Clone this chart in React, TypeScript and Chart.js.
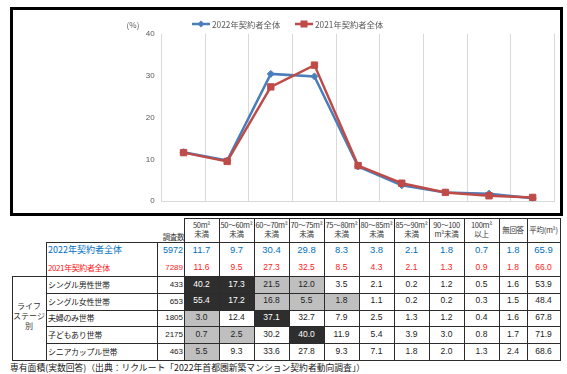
import React, { useEffect, useRef } from "react";
import { Chart, registerables } from "chart.js";

Chart.register(...registerables);

// ---------- chart data ----------
const chartCategories = [
  "50m²未満", "50～60m²未満", "60～70m²未満", "70～75m²未満", "75～80m²未満",
  "80～85m²未満", "85～90m²未満", "90～100m²未満", "100m²以上",
];
const series2022 = [11.7, 9.7, 30.4, 29.8, 8.3, 3.8, 2.1, 1.8, 0.7];
const series2021 = [11.6, 9.5, 27.3, 32.5, 8.5, 4.3, 2.1, 1.3, 0.9];
const yTickMin = 0;
const yTickMax = 40;
const yTickStep = 10;
const legend2022 = "2022年契約者全体";
const legend2021 = "2021年契約者全体";
const yUnitLabel = "(%)";

// ---------- table data ----------
const tableHeaders = [
  "50m²\n未満", "50～60m²\n未満", "60～70m²\n未満", "70～75m²\n未満", "75～80m²\n未満",
  "80～85m²\n未満", "85～90m²\n未満", "90～100\nm²未満", "100m²\n以上", "無回答", "平均(m²)",
];
const countHeader = "調査数";
const totalLabels = ["2022年契約者全体", "2021年契約者全体"];
const totalCounts = [5972, 7289];
const total2022 = [11.7, 9.7, 30.4, 29.8, 8.3, 3.8, 2.1, 1.8, 0.7, 1.8, 65.9];
const total2021 = [11.6, 9.5, 27.3, 32.5, 8.5, 4.3, 2.1, 1.3, 0.9, 1.8, 66.0];

const lifeGroupLabel = ["ライフ", "ステージ", "別"];
const lifeLabels = ["シングル男性世帯", "シングル女性世帯", "夫婦のみ世帯", "子どもあり世帯", "シニアカップル世帯"];
const lifeCounts = [433, 653, 1805, 2175, 463];
const singleMale = [40.2, 17.3, 21.5, 12.0, 3.5, 2.1, 0.2, 1.2, 0.5, 1.6, 53.9];
const singleFemale = [55.4, 17.2, 16.8, 5.5, 1.8, 1.1, 0.2, 0.2, 0.3, 1.5, 48.4];
const coupleOnly = [3.0, 12.4, 37.1, 32.7, 7.9, 2.5, 1.3, 1.2, 0.4, 1.6, 67.8];
const withChildren = [0.7, 2.5, 30.2, 40.0, 11.9, 5.4, 3.9, 3.0, 0.8, 1.7, 71.9];
const seniorCouple = [5.5, 9.3, 33.6, 27.8, 9.3, 7.1, 1.8, 2.0, 1.3, 2.4, 68.6];
const lifeValues = [singleMale, singleFemale, coupleOnly, withChildren, seniorCouple];
// highlighted cells: [lifeRow, column]
const darkCells = [[0, 0], [0, 1], [1, 0], [1, 1], [2, 2], [3, 3]];
const grayCells = [[0, 2], [0, 3], [1, 2], [1, 3], [1, 4], [2, 0], [3, 0], [3, 1], [4, 0]];

const footnote = "専有面積(実数回答)（出典：リクルート「2022年首都圏新築マンション契約者動向調査」）";

// ---------- layout ----------
const VX = [184, 219, 254, 289, 324, 359, 394, 429, 464, 499, 527, 560];
const HEAD_TOP = 218;
const ROW_Y = [242, 259, 276, 292.8, 309.6, 326.4, 343.2, 360];
const LINE = "#2b2b2b";
const JP = '"Noto Sans CJK JP", sans-serif';
const NUM = '"Liberation Sans", "Noto Sans CJK JP", sans-serif';

const BLUE = "#4A7EBB";
const RED = "#BE4B48";

const overlayPlugin = {
  id: "overlay",
  afterDraw(chart: any) {
    const ctx = chart.ctx as CanvasRenderingContext2D;
    ctx.save();
    ctx.fillStyle = "#595959";
    ctx.textBaseline = "middle";
    ctx.font = `8px ${JP}`;
    ctx.textAlign = "center";
    ctx.fillText(yUnitLabel, 120, 15);
    ctx.textAlign = "left";
    ctx.font = `8.3px ${JP}`;
    const y = 14;
    // 2022
    ctx.strokeStyle = BLUE;
    ctx.lineWidth = 2.5;
    ctx.beginPath(); ctx.moveTo(179, y); ctx.lineTo(197, y); ctx.stroke();
    ctx.fillStyle = BLUE;
    ctx.beginPath();
    ctx.moveTo(188, y - 3.5); ctx.lineTo(191.5, y); ctx.lineTo(188, y + 3.5); ctx.lineTo(184.5, y);
    ctx.closePath(); ctx.fill();
    ctx.fillStyle = "#595959";
    ctx.fillText(legend2022, 199, y + 0.5);
    // 2021
    ctx.strokeStyle = RED;
    ctx.beginPath(); ctx.moveTo(282, y); ctx.lineTo(300, y); ctx.stroke();
    ctx.fillStyle = RED;
    ctx.fillRect(287.5, y - 3.5, 7, 7);
    ctx.fillStyle = "#595959";
    ctx.fillText(legend2021, 302, y + 0.5);
    ctx.restore();
  },
};

function ChartBox() {
  const ref = useRef<HTMLCanvasElement | null>(null);
  useEffect(() => {
    if (!ref.current) return;
    const chart = new Chart(ref.current, {
      type: "line",
      data: {
        labels: chartCategories,
        datasets: [
          {
            label: legend2022,
            data: series2022,
            borderColor: BLUE,
            backgroundColor: BLUE,
            borderWidth: 2.5,
            pointStyle: "rectRot",
            pointRadius: 3.5,
            pointBorderWidth: 1,
            pointBackgroundColor: BLUE,
            pointBorderColor: BLUE,
            order: 1,
          },
          {
            label: legend2021,
            data: series2021,
            borderColor: RED,
            backgroundColor: RED,
            borderWidth: 2.5,
            pointStyle: "rect",
            pointRadius: 4.5,
            pointBorderWidth: 1,
            pointBackgroundColor: RED,
            pointBorderColor: RED,
            order: 0,
          },
        ],
      },
      options: {
        animation: false,
        responsive: false,
        devicePixelRatio: 1,
        layout: { padding: { top: 23.7, right: 4.6, bottom: 8, left: 0 } },
        plugins: { legend: { display: false }, tooltip: { enabled: false } },
        scales: {
          x: {
            type: "category",
            offset: true,
            grid: { display: true, offset: true, color: "#d9d9d9", lineWidth: 1, drawTicks: false },
            border: { display: true, color: "#d9d9d9" },
            ticks: { display: false },
            afterFit: (s: any) => { s.height = 0; },
          },
          y: {
            min: yTickMin,
            max: yTickMax,
            ticks: { stepSize: yTickStep, padding: 7, color: "#595959", font: { size: 8, family: NUM } },
            grid: { display: false, drawTicks: false },
            border: { display: false },
            afterFit: (s: any) => { s.width = 148.7; },
          },
        },
      },
      plugins: [overlayPlugin],
    } as any);
    return () => chart.destroy();
  }, []);
  return <canvas ref={ref} width={547} height={203} style={{ display: "block" }} />;
}

const fmt = (v: number) => v.toFixed(1);

export default function App() {
  const els: React.ReactNode[] = [];
  let k = 0;
  const hline = (x1: number, x2: number, y: number) =>
    els.push(<div key={k++} style={{ position: "absolute", left: x1, top: y, width: x2 - x1 + 1, height: 1, background: LINE }} />);
  const vline = (x: number, y1: number, y2: number) =>
    els.push(<div key={k++} style={{ position: "absolute", left: x, top: y1, width: 1, height: y2 - y1 + 1, background: LINE }} />);
  const cell = (
    x1: number, x2: number, y1: number, y2: number, text: string,
    st: React.CSSProperties = {}, align: "center" | "left" | "right" = "center"
  ) =>
    els.push(
      <div
        key={k++}
        style={{
          position: "absolute", left: x1, top: y1, width: x2 - x1, height: y2 - y1,
          display: "flex", alignItems: "center",
          justifyContent: align === "center" ? "center" : align === "left" ? "flex-start" : "flex-end",
          paddingLeft: align === "left" ? 2 : 0, paddingRight: align === "right" ? 1 : 0,
          boxSizing: "border-box", whiteSpace: "pre", textAlign: "center", lineHeight: 1.15,
          ...st,
        }}
      >
        {text}
      </div>
    );

  // shading first
  darkCells.forEach(([r, c]) => {
    const y1 = ROW_Y[r + 2], y2 = ROW_Y[r + 3];
    els.push(<div key={k++} style={{ position: "absolute", left: VX[c], top: y1, width: VX[c + 1] - VX[c], height: y2 - y1, background: "#2e2e2e" }} />);
  });
  grayCells.forEach(([r, c]) => {
    const y1 = ROW_Y[r + 2], y2 = ROW_Y[r + 3];
    els.push(<div key={k++} style={{ position: "absolute", left: VX[c], top: y1, width: VX[c + 1] - VX[c], height: y2 - y1, background: "#bfbfbf" }} />);
  });

  // header
  tableHeaders.forEach((h, i) =>
    cell(VX[i], VX[i + 1], HEAD_TOP, ROW_Y[0], h, { fontFamily: JP, fontSize: 7.5, color: "#333", letterSpacing: -0.3 })
  );
  els.push(
    <div key={k++} style={{ position: "absolute", left: 157, top: 231, width: 27, textAlign: "right", fontFamily: JP, fontSize: 7.5, color: "#333", letterSpacing: -0.4 }}>
      {countHeader}
    </div>
  );

  // totals
  const totalColors = ["#0070C0", "#FF1A1A"];
  const totalSizes = [9, 8];
  [total2022, total2021].forEach((vals, r) => {
    const y1 = ROW_Y[r], y2 = ROW_Y[r + 1];
    cell(46, 157, y1, y2, totalLabels[r], { fontFamily: JP, fontSize: totalSizes[r], color: totalColors[r], letterSpacing: r === 1 ? -0.4 : 0 }, "left");
    cell(157, 184, y1, y2, String(totalCounts[r]), { fontFamily: NUM, fontSize: totalSizes[r], color: totalColors[r] }, "right");
    vals.forEach((v, c) =>
      cell(VX[c], VX[c + 1], y1, y2, fmt(v), { fontFamily: NUM, fontSize: totalSizes[r] + 0.5, color: totalColors[r] })
    );
  });

  // life stage rows
  lifeValues.forEach((vals, r) => {
    const y1 = ROW_Y[r + 2], y2 = ROW_Y[r + 3];
    cell(46, 157, y1, y2, lifeLabels[r], { fontFamily: JP, fontSize: 8, color: "#222", letterSpacing: -0.3 }, "left");
    cell(157, 184, y1, y2, String(lifeCounts[r]), { fontFamily: NUM, fontSize: 8, color: "#222" }, "right");
    vals.forEach((v, c) => {
      const dark = darkCells.some(([a, b]) => a === r && b === c);
      cell(VX[c], VX[c + 1], y1, y2, fmt(v), { fontFamily: NUM, fontSize: 8.5, color: dark ? "#fff" : "#222" });
    });
  });
  cell(12, 46, 300, 332, lifeGroupLabel.join("\n"), { fontFamily: JP, fontSize: 8, color: "#333", lineHeight: "10px" });

  // lines
  hline(184, 560, HEAD_TOP);
  hline(46, 560, ROW_Y[0]);
  hline(12, 560, ROW_Y[2]);
  for (let i = 3; i < 7; i++) hline(46, 560, Math.round(ROW_Y[i]));
  hline(12, 560, ROW_Y[7]);
  vline(12, ROW_Y[2], ROW_Y[7]);
  vline(46, ROW_Y[0], ROW_Y[7]);
  vline(157, ROW_Y[0], ROW_Y[7]);
  VX.forEach((x) => vline(x, HEAD_TOP, ROW_Y[7]));

  return (
    <div style={{ position: "fixed", left: 0, top: 0, width: 567, height: 374, background: "#fff", overflow: "hidden" }}>
      <div style={{ position: "absolute", left: 10, top: 7, width: 547, height: 203, border: "3px solid #000" }}>
        <ChartBox />
      </div>
      {els}
      <div style={{ position: "absolute", left: 10, top: 362, fontFamily: JP, fontSize: 8.8, color: "#222", whiteSpace: "nowrap", lineHeight: "12px" }}>
        {footnote}
      </div>
    </div>
  );
}
